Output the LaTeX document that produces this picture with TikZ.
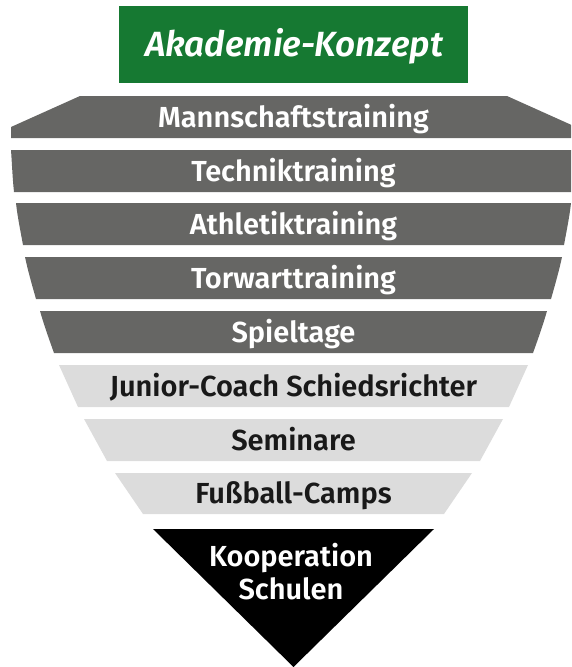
\documentclass[tikz,border=0pt]{standalone}
\usepackage{fontspec}
\setmainfont{Fira Sans}[BoldFont={Fira Sans SemiBold}, BoldItalicFont={Fira Sans SemiBold Italic}]
\definecolor{akgreen}{RGB}{22,121,50}
\definecolor{akdark}{RGB}{102,102,100}
\definecolor{aklight}{RGB}{220,220,220}
\definecolor{aktext}{RGB}{25,25,25}
\tikzset{
  bandlabel/.style={inner sep=0pt, text height=20pt, text depth=0pt, font=\fontsize{29}{34}\selectfont\bfseries},
  darklabel/.style={bandlabel, text=white},
  lightlabel/.style={bandlabel, text=aktext},
}
\begin{document}
\begin{tikzpicture}[x=1pt,y=-1pt]
\useasboundingbox (0,0) rectangle (571,667);
\clip (0,0) rectangle (571,667);
% title box
\fill[akgreen] (119,6) rectangle (468,83);
\node[inner sep=0pt, text height=24pt, text depth=0pt, text=white, font=\fontsize{35}{40}\selectfont\bfseries\itshape] (title) at (294,44) {Akademie-Konzept};
% band 1
\fill[akdark] (80,96) -- (507,96) -- (576,127) -- (576,138) -- (11,138) -- (11,127) -- cycle;
% dark bands
\fill[akdark] (11,150) -- (576,150) .. controls (575,164) and (574.5,178) .. (573,192) -- (14,192) .. controls (12.5,178) and (12,164) .. cycle;
\fill[akdark] (16,203) -- (571,203) .. controls (569.5,217) and (566.5,231) .. (564,245) -- (23,245) .. controls (20.5,231) and (17.5,217) .. cycle;
\fill[akdark] (25,257) -- (562,257) .. controls (559,271) and (555,285) .. (551,299) -- (36,299) .. controls (32,285) and (28,271) .. cycle;
\fill[akdark] (40,311) -- (547,311) .. controls (543,325) and (538,339) .. (533,353) -- (54,353) .. controls (49,339) and (44,325) .. cycle;
% light bands
\fill[aklight] (59,365) -- (528,365) -- (509,407) -- (78,407) -- cycle;
\fill[aklight] (84,419) -- (503,419) -- (480,461) -- (107,461) -- cycle;
\fill[aklight] (115,473) -- (472,473) -- (444,514) -- (143,514) -- cycle;
% black triangle
\fill[black] (153,529) -- (434,529) -- (293.5,667) -- cycle;
% labels
\node[darklabel] (t1) at (293.5,117) {Mannschaftstraining};
\node[darklabel] (t2) at (293.5,171) {Techniktraining};
\node[darklabel] (t3) at (293.5,224) {Athletiktraining};
\node[darklabel] (t4) at (293.5,278) {Torwarttraining};
\node[darklabel] (t5) at (293.5,332) {Spieltage};
\node[lightlabel] (t6) at (293.5,386) {Junior-Coach Schiedsrichter};
\node[lightlabel] (t7) at (293.5,440) {Seminare};
\node[lightlabel] (t8) at (293.5,493.5) {Fußball-Camps};
\node[darklabel] (t9a) at (291,556) {Kooperation};
\node[darklabel] (t9b) at (291,589) {Schulen};
\end{tikzpicture}
\end{document}
